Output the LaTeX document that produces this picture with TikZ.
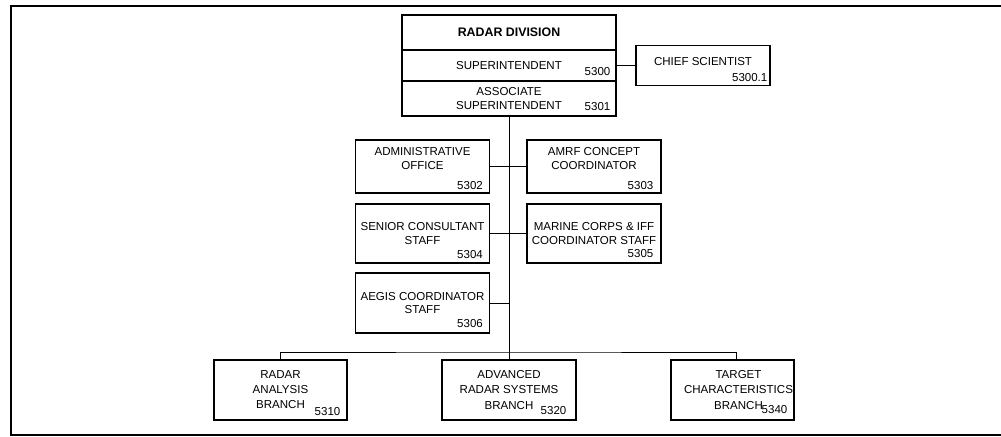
\documentclass[tikz,border=0pt]{standalone}
\usepackage{fontspec}
\setmainfont{Liberation Sans}
\begin{document}
\begin{tikzpicture}[
  box/.style={rectangle, draw, line width=0.9pt, inner sep=0pt, minimum width=#1,
              align=center, font=\fontsize{8.2}{9.6}\selectfont},
  box/.default=3.35cm,
  branch/.style={box=#1, minimum height=1.5cm, font=\fontsize{8.2}{10.7}\selectfont},
  branch/.default=3.35cm,
  txt/.style={align=center, inner sep=0pt, font=\fontsize{8.2}{9.6}\selectfont},
  num/.style={anchor=base east, inner sep=0pt, font=\fontsize{8.2}{9.6}\selectfont},
  conn/.style={line width=0.7pt}
]
  \useasboundingbox (0,0) rectangle (25.025,-10.925);
  % Cadre
  \draw[line width=2pt] (25.025,-0.15) -- (0.275,-0.15) -- (0.275,-10.875) -- (25.025,-10.875);

  % Direction
  \node[box=5.35cm, minimum height=0.875cm, font=\fontsize{8.8}{10}\selectfont\bfseries] (div) at (12.725,-0.8125) {RADAR DIVISION};
  \node[box=5.35cm, minimum height=0.775cm] (supt) at (12.725,-1.6375) {SUPERINTENDENT};
  \node[box=5.35cm, minimum height=0.875cm] (assoc) at (12.725,-2.4625) {ASSOCIATE\\SUPERINTENDENT};
  \node[box, minimum height=1cm] (chief) at (17.575,-1.6375) {};
  \node[txt] (chief-t) at ([yshift=0.11cm]chief.center) {CHIEF SCIENTIST};

  % Etat-major
  \node[box, minimum height=1.325cm] (admin) at (10.5625,-4.1625) {};
  \node[txt] (admin-t) at ([yshift=0.2cm]admin.center) {ADMINISTRATIVE\\OFFICE};
  \node[box, minimum height=1.325cm] (amrf) at (14.85,-4.1625) {};
  \node[txt] (amrf-t) at ([yshift=0.2cm]amrf.center) {AMRF CONCEPT\\COORDINATOR};
  \node[box, minimum height=1.475cm] (senior) at (10.5625,-5.8375) {SENIOR CONSULTANT\\STAFF};
  \node[box, minimum height=1.475cm] (marine) at (14.85,-5.8375) {MARINE CORPS \& IFF\\COORDINATOR STAFF};
  \node[box, minimum height=1.5cm] (aegis) at (10.5625,-7.575) {AEGIS COORDINATOR\\STAFF};

  % Branches
  \node[branch=3.325cm] (ra) at (7.0125,-9.75) {RADAR\\ANALYSIS\\BRANCH};
  \node[branch] (adv) at (12.725,-9.75) {ADVANCED\\RADAR SYSTEMS\\BRANCH};
  \node[branch=3.075cm] (tc) at (18.3125,-9.75) {};
  \node[txt, font=\fontsize{8.2}{10.7}\selectfont] (tc-t) at ([xshift=0.15cm]tc.center) {TARGET\\CHARACTERISTICS\\BRANCH};

  % Codes
  \node[num] (n5300) at ([shift={(-0.15,0.15)}]supt.south east) {5300};
  \node[num] (n5301) at ([shift={(-0.15,0.15)}]assoc.south east) {5301};
  \node[num] (n53001) at ([shift={(-0.075,0.125)}]chief.south east) {5300.1};
  \node[num] (n5302) at ([shift={(-0.175,0.1)}]admin.south east) {5302};
  \node[num] (n5303) at ([shift={(-0.2,0.1)}]amrf.south east) {5303};
  \node[num] (n5304) at ([shift={(-0.175,0.125)}]senior.south east) {5304};
  \node[num] (n5305) at ([shift={(-0.2,0.15)}]marine.south east) {5305};
  \node[num] (n5306) at ([shift={(-0.175,0.15)}]aegis.south east) {5306};
  \node[num] (n5310) at ([shift={(-0.175,0.125)}]ra.south east) {5310};
  \node[num] (n5320) at ([shift={(-0.25,0.15)}]adv.south east) {5320};
  \node[num] (n5340) at ([shift={(-0.175,0.175)}]tc.south east) {5340};

  % Liaisons
  \coordinate (bus) at (12.725,-8.8);
  \draw[conn] (supt.east) -- (chief.west);
  \draw[conn] (assoc.south) -- (adv.north);
  \draw[conn] (admin.east) -- (amrf.west);
  \draw[conn] (senior.east) -- (marine.west);
  \draw[conn] (aegis.east) -- (aegis.east -| assoc.south);
  \draw[conn] (ra.north) |- (bus) -| ([xshift=0.1cm]tc.north);
\end{tikzpicture}
\end{document}
